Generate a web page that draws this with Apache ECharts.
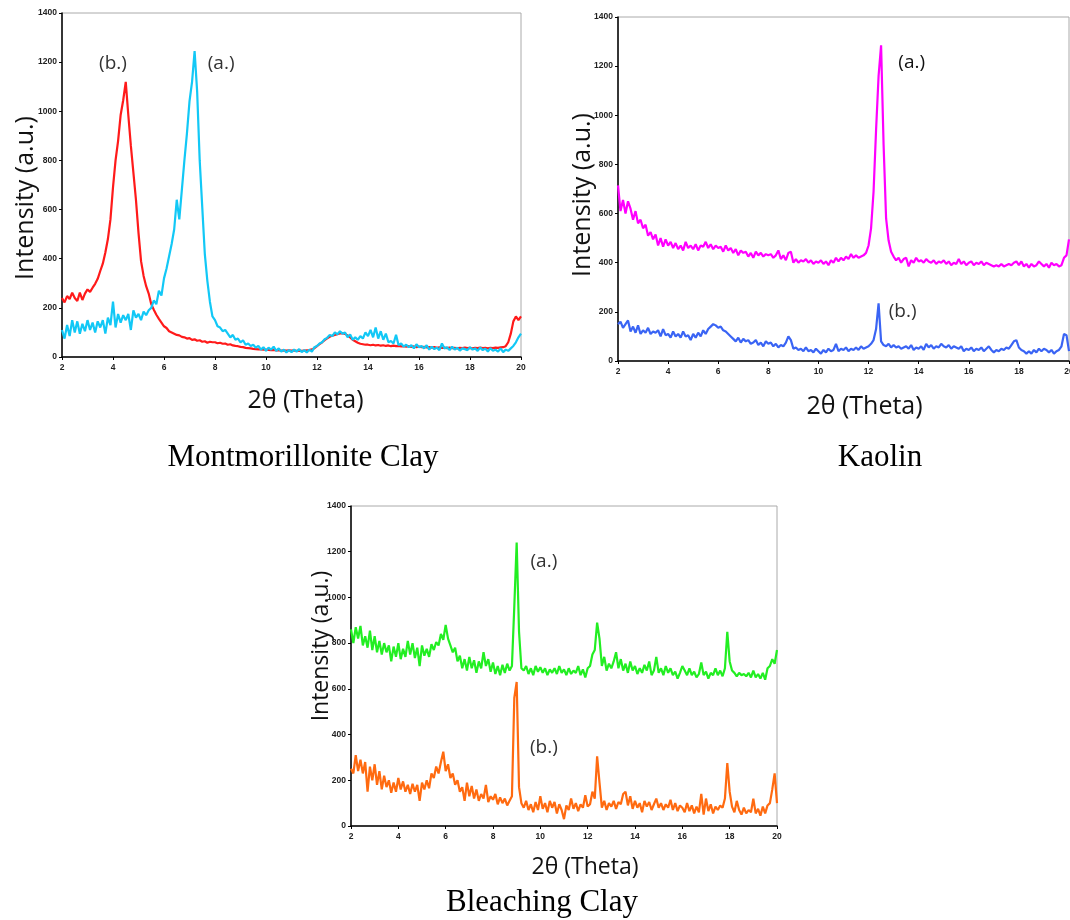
<!DOCTYPE html>
<html><head><meta charset="utf-8">
<script src="https://cdn.jsdelivr.net/npm/echarts@6/dist/echarts.min.js"></script>
<style>html,body{margin:0;padding:0;background:#fff}#c{width:1070px;height:920px}</style>
</head><body><div id="c"></div>
<script>
// 2θ sampling grid: 2.0 .. 20.0 step 0.1
const theta = [];
for (let i = 0; i <= 180; i++) theta.push(+(2 + i * 0.1).toFixed(1));
const xTicks = [2,4,6,8,10,12,14,16,18,20];
const yTicks = [0,200,400,600,800,1000,1200,1400];

// Montmorillonite Clay
const montA = [110,75,130,85,150,100,145,95,135,105,150,110,140,100,145,120,150,95,160,130,
225,120,175,140,170,150,175,110,190,160,175,150,185,170,190,200,230,215,270,250,
320,360,410,460,520,640,560,680,800,910,1040,1120,1245,1080,800,610,420,310,225,165,
150,125,120,105,110,95,80,90,70,75,60,68,50,55,45,50,38,45,30,40,
25,38,30,42,25,35,22,30,18,28,20,30,22,32,20,28,18,30,22,40,
45,55,60,72,78,90,85,100,92,105,95,100,80,92,70,80,70,85,75,100,
85,110,80,120,75,105,70,95,60,65,55,90,48,55,42,50,40,48,35,52,
40,45,35,48,30,42,32,38,28,55,35,40,28,42,30,38,26,35,32,28,
40,30,35,25,38,28,34,22,36,25,30,22,35,20,30,25,35,45,60,80,95];
const montB = [240,222,248,236,262,240,228,262,232,258,275,265,282,298,318,350,380,425,480,560,
690,800,880,985,1045,1120,985,860,750,640,505,390,330,288,258,215,192,172,155,140,
125,118,105,100,95,90,88,82,80,75,77,70,72,66,68,62,64,58,62,60,
60,56,58,54,55,50,52,47,45,44,41,40,37,36,35,33,32,31,31,30,
30,29,28,29,27,28,26,27,26,27,26,27,25,26,25,26,27,28,31,36,
44,52,60,69,76,82,87,90,93,96,97,94,88,80,70,64,58,54,52,50,
50,48,50,47,49,46,48,45,47,44,46,44,45,43,44,42,44,41,43,40,
42,40,41,39,40,38,40,37,39,37,38,36,38,36,37,35,37,36,38,36,
37,35,37,36,38,36,37,35,37,36,38,37,39,40,44,60,95,145,165,150,165];

// Kaolin
const kaoA = [715,610,655,600,650,620,575,610,560,575,540,555,510,525,495,515,470,500,465,495,
470,485,460,480,455,470,450,485,460,470,455,475,450,470,465,485,460,475,455,470,
460,465,445,470,450,460,440,455,430,450,440,445,425,440,420,445,430,440,425,435,
430,435,420,430,450,415,430,410,440,445,400,415,400,410,405,415,400,410,395,405,
400,410,395,405,390,410,400,420,405,420,410,425,415,435,420,430,420,425,430,440,
470,540,690,940,1160,1285,880,580,490,445,425,410,420,400,415,420,385,410,400,420,
405,410,400,415,405,400,410,395,405,400,410,395,405,390,400,395,415,395,405,390,
400,405,390,400,395,405,390,400,395,390,385,390,385,395,385,390,395,390,400,405,
390,405,385,395,380,395,385,390,405,395,385,395,380,400,390,395,385,390,420,430,495];
const kaoB = [150,160,135,150,165,120,140,115,145,110,125,115,135,110,120,115,125,100,130,105,
110,95,120,100,110,95,120,100,105,85,110,95,115,100,125,110,130,140,150,145,
135,140,125,120,110,100,90,80,95,75,90,80,85,70,75,85,65,75,60,80,
70,75,60,70,55,65,60,75,100,85,50,55,45,50,40,55,40,45,35,50,
40,30,45,35,50,40,45,70,40,50,45,55,40,50,45,55,45,60,50,55,
60,70,85,130,235,80,65,60,70,55,65,55,60,50,55,60,50,65,45,55,
50,60,45,70,55,65,50,60,55,70,60,55,65,50,60,55,50,60,40,50,
45,55,40,50,45,55,40,50,60,45,35,45,40,50,45,55,50,65,80,85,
55,45,40,30,40,30,45,35,50,40,50,45,35,45,30,40,45,60,110,105,40];

// Bleaching Clay
const blA = [860,800,870,820,875,790,830,780,855,770,830,760,810,750,800,760,790,720,785,740,
800,730,775,740,810,750,800,735,780,700,790,745,775,740,795,770,805,790,840,815,
880,820,790,760,780,720,745,690,730,680,740,690,725,670,720,690,760,700,730,675,
715,665,700,660,705,670,710,680,700,960,1240,850,690,680,700,665,690,660,700,675,
695,670,690,660,685,670,690,665,700,670,685,660,690,665,680,670,700,660,685,650,
690,700,750,770,890,820,700,740,680,710,690,720,760,690,730,680,710,670,720,680,
700,665,690,670,705,680,720,660,680,740,670,690,660,700,670,690,660,675,645,670,
700,680,660,690,660,675,650,665,715,660,675,645,670,660,690,660,680,655,690,850,
720,680,670,655,670,660,665,655,670,650,680,650,665,645,670,640,690,700,730,710,770];
const blB = [250,230,310,240,290,230,280,150,260,200,270,180,240,160,220,170,200,145,190,150,
210,160,195,150,180,140,185,150,180,110,190,160,200,165,230,210,260,230,280,325,
240,270,210,230,180,200,150,170,110,190,130,175,120,160,110,140,120,180,105,130,
115,140,95,125,100,120,90,110,130,560,630,170,100,80,110,70,95,60,105,70,
130,75,100,60,110,80,105,55,95,70,30,90,70,120,75,100,65,95,80,135,
85,95,150,120,305,190,80,110,70,100,85,110,75,105,95,140,150,90,130,75,
110,80,100,60,110,85,105,70,95,120,80,100,70,95,80,115,70,100,65,90,
80,60,100,65,90,55,85,60,140,50,120,65,95,55,85,70,90,80,120,275,
150,85,60,110,70,50,80,55,70,60,120,55,75,45,85,55,90,100,160,230,100];

const pts = v => theta.map((t, i) => [t, v[i]]);

const grids = [
  {left: 62, top: 13, width: 459, height: 344},
  {left: 618, top: 17, width: 451, height: 344},
  {left: 351, top: 506, width: 426, height: 320}
];
const nameSize = [25, 25, 23];
const nameGapY = [24, 23, 18];
const nameGapX = [31, 33, 30];
const yNamePad = [[0, 26, 0, 0], [0, 12, 0, 0], [0, 0, 0, 40]];
const xNamePad = [[0, 0, 0, 28], [0, 0, 0, 42], [0, 0, 0, 42]];

const xAxes = grids.map((g, k) => ({
  gridIndex: k, type: 'value', min: 2, max: 20, interval: 2,
  name: '2θ (Theta)', nameLocation: 'middle', nameGap: nameGapX[k],
  nameTextStyle: {fontFamily: 'Open Sans', fontSize: nameSize[k], color: '#111', padding: xNamePad[k]},
  axisLine: {show: true, onZero: false, lineStyle: {color: '#000', width: 1.5}},
  axisTick: {show: true, length: 3, lineStyle: {color: '#000'}},
  axisLabel: {fontFamily: 'Liberation Sans', fontWeight: 'bold', fontSize: 8.5, color: '#222', margin: 6,
    formatter: v => xTicks.includes(v) ? String(v) : ''},
  splitLine: {show: false}
}));
const yAxes = grids.map((g, k) => ({
  gridIndex: k, type: 'value', min: 0, max: 1400, interval: 200,
  name: 'Intensity (a.u.)', nameLocation: 'middle', nameGap: nameGapY[k], nameRotate: 90,
  nameMoveOverlap: false,
  nameTextStyle: {fontFamily: 'Open Sans', fontSize: nameSize[k], color: '#111', padding: yNamePad[k]},
  axisLine: {show: true, lineStyle: {color: '#000', width: 1.5}},
  axisTick: {show: true, length: 3, lineStyle: {color: '#000'}},
  axisLabel: {fontFamily: 'Liberation Sans', fontWeight: 'bold', fontSize: 8.5, color: '#222', margin: 5,
    formatter: v => yTicks.includes(v) ? String(v) : ''},
  splitLine: {show: false}
}));

const lbl = (coord, text, bold) => ({
  coord, value: text,
  label: {show: true, position: 'inside', formatter: text, fontFamily: 'Open Sans',
    fontSize: 19, color: bold ? '#111' : '#333'}
});
const mk = (items) => ({symbol: 'circle', symbolSize: 0, silent: true, data: items, animation: false});

const line = (name, k, v, color, marks) => ({
  name, type: 'line', xAxisIndex: k, yAxisIndex: k, data: pts(v),
  showSymbol: false, symbol: 'none', sampling: null, animation: false,
  lineStyle: {color, width: 2.2}, itemStyle: {color},
  markPoint: marks ? mk(marks) : undefined
});

const series = [
  line('Montmorillonite (b.)', 0, montB, '#ff1a1a', [lbl([4.0, 1196], '(b.)')]),
  line('Montmorillonite (a.)', 0, montA, '#12c8f6', [lbl([8.24, 1196], '(a.)')]),
  line('Kaolin (a.)', 1, kaoA, '#ff00ff', [lbl([13.72, 1213], '(a.)', true)]),
  line('Kaolin (b.)', 1, kaoB, '#3a64f4', [lbl([13.36, 203], '(b.)')]),
  line('Bleaching (a.)', 2, blA, '#22ee22', [lbl([10.15, 1155], '(a.)')]),
  line('Bleaching (b.)', 2, blB, '#ff6a10', [lbl([10.15, 343], '(b.)')])
];

const titleStyle = {fontFamily: 'Liberation Serif', fontSize: 31, fill: '#000', textAlign: 'center', textVerticalAlign: 'middle'};
const chart = echarts.init(document.getElementById('c'), null, {renderer: 'canvas'});
chart.setOption({
  backgroundColor: '#fff',
  animation: false,
  grid: grids.map(g => Object.assign({show: true, borderColor: '#aaa', borderWidth: 1,
    backgroundColor: 'transparent', containLabel: false, outerBoundsMode: 'none'}, g)),
  xAxis: xAxes,
  yAxis: yAxes,
  series,
  graphic: [
    {type: 'text', x: 303, y: 458, style: Object.assign({text: 'Montmorillonite Clay'}, titleStyle)},
    {type: 'text', x: 880, y: 458, style: Object.assign({text: 'Kaolin'}, titleStyle)},
    {type: 'text', x: 542, y: 903, style: Object.assign({text: 'Bleaching Clay'}, titleStyle)}
  ]
});
</script></body></html>
